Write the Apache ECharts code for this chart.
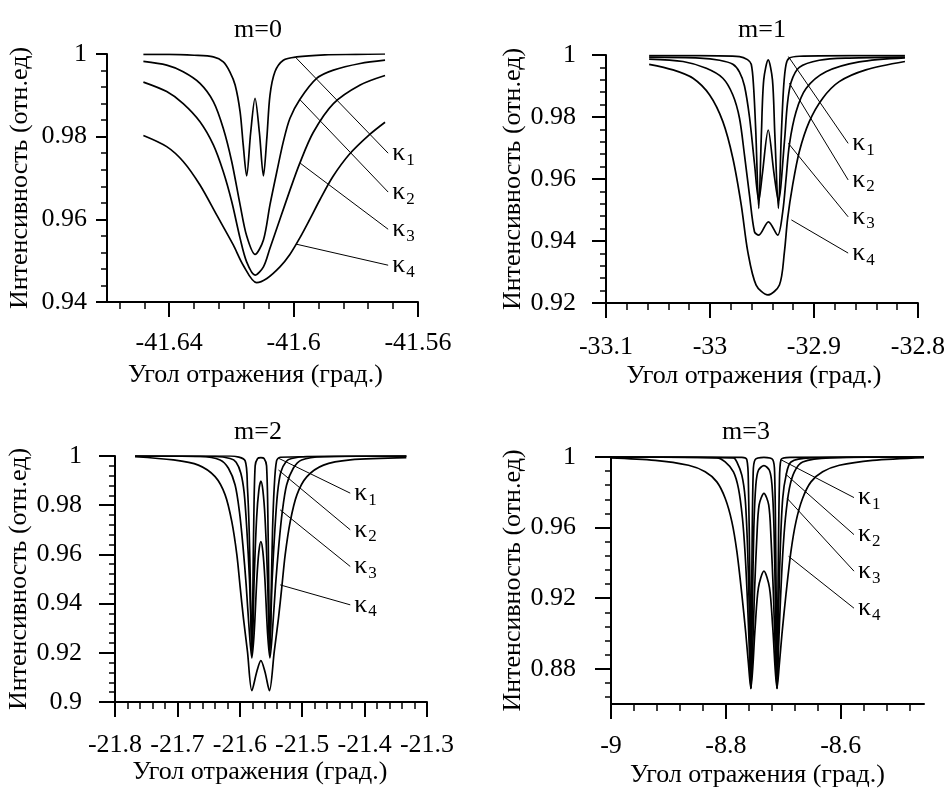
<!DOCTYPE html>
<html><head><meta charset="utf-8">
<script src="https://cdn.jsdelivr.net/npm/echarts@6/dist/echarts.min.js"></script>
<style>html,body{margin:0;padding:0;background:#fff}#c{width:948px;height:789px}</style>
</head><body><div id="c"></div>
<script>
const FONT = 'Liberation Serif';
const FS = 26;

const titles = ['m=0', 'm=1', 'm=2', 'm=3'];
const xName = 'Угол отражения (град.)';
const yName = 'Интенсивность (отн.ед)';
const kappaNames = ['1', '2', '3', '4'];

// ---------- m = 0 ----------
const m0XRange = [-41.66, -41.56];
const m0YRange = [0.94, 1];
const m0XTicks = [-41.64, -41.6, -41.56];
const m0XLabels = ['-41.64', '-41.6', '-41.56'];
const m0YTicks = [0.94, 0.96, 0.98, 1];
const m0YLabels = ['0.94', '0.96', '0.98', '1'];
const m0XMinor = [-41.656, -41.56, 0.008];
const m0YMinor = [0.94, 1, 0.004];
const m0k1 = [[-41.6483,0.9999],[-41.640,0.9999],[-41.632,0.9997],[-41.6258,0.9993],[-41.6226,0.9981],[-41.6205,0.9957],[-41.6188,0.9925],[-41.6172,0.9860],[-41.6162,0.9780],[-41.6151,0.9705],[-41.6138,0.9810],[-41.6124,0.9893],[-41.6110,0.9810],[-41.6097,0.9705],[-41.6086,0.9797],[-41.6076,0.9900],[-41.6060,0.9957],[-41.6033,0.9985],[-41.5990,0.9993],[-41.590,0.9998],[-41.580,0.9999],[-41.5706,1.0]];
const m0k2 = [[-41.6483,0.9982],[-41.6408,0.9973],[-41.6355,0.9957],[-41.6301,0.9929],[-41.6258,0.9885],[-41.6226,0.9820],[-41.6199,0.9740],[-41.6172,0.9635],[-41.6151,0.9560],[-41.6124,0.9515],[-41.6097,0.9550],[-41.6076,0.9635],[-41.6054,0.9715],[-41.6033,0.9788],[-41.6012,0.9844],[-41.5980,0.9890],[-41.5926,0.9941],[-41.5872,0.9961],[-41.5786,0.9977],[-41.5706,0.9985]];
const m0k3 = [[-41.6483,0.9932],[-41.6408,0.9909],[-41.6355,0.9880],[-41.6301,0.9836],[-41.6258,0.9780],[-41.6226,0.9715],[-41.6199,0.9643],[-41.6172,0.9554],[-41.6151,0.9497],[-41.6124,0.9465],[-41.6097,0.9485],[-41.6076,0.9530],[-41.6044,0.9600],[-41.6012,0.9670],[-41.5980,0.9736],[-41.5937,0.9810],[-41.5872,0.9880],[-41.5786,0.9925],[-41.5706,0.9948]];
const m0k4 = [[-41.6483,0.9803],[-41.6408,0.9776],[-41.6355,0.9740],[-41.6301,0.9683],[-41.6247,0.9610],[-41.6194,0.9538],[-41.6162,0.9489],[-41.6119,0.9447],[-41.6086,0.9457],[-41.6044,0.9485],[-41.6012,0.9515],[-41.5980,0.9555],[-41.5948,0.9600],[-41.5915,0.9648],[-41.5874,0.9703],[-41.5820,0.9758],[-41.5756,0.9805],[-41.5706,0.9835]];
const m0Ann = [
  [[-41.5995,0.9993],[-41.5696,0.9760]],
  [[-41.5979,0.9889],[-41.5696,0.9666]],
  [[-41.5979,0.9736],[-41.5696,0.9576]],
  [[-41.5992,0.9540],[-41.5696,0.9489]]
];

// ---------- m = 1 ----------
const m1XRange = [-33.1, -32.8];
const m1YRange = [0.92, 1];
const m1XTicks = [-33.1, -33, -32.9, -32.8];
const m1XLabels = ['-33.1', '-33', '-32.9', '-32.8'];
const m1YTicks = [0.92, 0.94, 0.96, 0.98, 1];
const m1YLabels = ['0.92', '0.94', '0.96', '0.98', '1'];
const m1XMinor = [-33.1, -32.8, 0.02];
const m1YMinor = [0.92, 1, 0.004];
const m1k1 = [[-33.0585,0.9998],[-33.0099,0.9998],[-32.9716,0.9995],[-32.9639,0.9985],[-32.9603,0.9970],[-32.9581,0.9900],[-32.9559,0.9750],[-32.9531,0.9505],[-32.9505,0.9750],[-32.9483,0.9920],[-32.9440,0.9984],[-32.9399,0.9920],[-32.9377,0.9750],[-32.9342,0.9505],[-32.9313,0.9750],[-32.9291,0.9900],[-32.9268,0.9970],[-32.9236,0.9990],[-32.9141,0.9996],[-32.8661,0.9998],[-32.8125,0.9998]];
const m1k2 = [[-33.0585,0.9993],[-33.0099,0.9990],[-32.9907,0.9983],[-32.9780,0.9970],[-32.9716,0.9945],[-32.9668,0.9900],[-32.9620,0.9800],[-32.9572,0.9650],[-32.9531,0.9530],[-32.9495,0.9620],[-32.9440,0.9758],[-32.9385,0.9620],[-32.9342,0.9530],[-32.9284,0.9720],[-32.9256,0.9840],[-32.9220,0.9912],[-32.9141,0.9960],[-32.8949,0.9983],[-32.8661,0.9990],[-32.8125,0.9993]];
const m1k3 = [[-33.0585,0.9987],[-33.0259,0.9979],[-33.0035,0.9957],[-32.9876,0.9925],[-32.9780,0.9871],[-32.9716,0.9796],[-32.9668,0.9677],[-32.9620,0.9548],[-32.9572,0.9430],[-32.9531,0.9419],[-32.9438,0.9462],[-32.9349,0.9419],[-32.9300,0.9495],[-32.9268,0.9602],[-32.9236,0.9712],[-32.9172,0.9817],[-32.9076,0.9892],[-32.8885,0.9946],[-32.8565,0.9978],[-32.8125,0.9991]];
const m1k4 = [[-33.0585,0.9970],[-33.0355,0.9952],[-33.0163,0.9925],[-33.0003,0.9871],[-32.9876,0.9785],[-32.9780,0.9667],[-32.9699,0.9516],[-32.9636,0.9365],[-32.9556,0.9258],[-32.9444,0.9226],[-32.9332,0.9258],[-32.9284,0.9365],[-32.9253,0.9473],[-32.9205,0.9580],[-32.9141,0.9688],[-32.9045,0.9785],[-32.8917,0.9860],[-32.8757,0.9914],[-32.8501,0.9952],[-32.8125,0.9979]];
const m1Ann = [
  [[-32.9246,0.9995],[-32.8671,0.9715]],
  [[-32.9236,0.9909],[-32.8671,0.9597]],
  [[-32.9246,0.9715],[-32.8671,0.9478]],
  [[-32.9217,0.9468],[-32.8671,0.9361]]
];

// ---------- m = 2 ----------
const m2XRange = [-21.8, -21.3];
const m2YRange = [0.9, 1];
const m2XTicks = [-21.8, -21.7, -21.6, -21.5, -21.4, -21.3];
const m2XLabels = ['-21.8', '-21.7', '-21.6', '-21.5', '-21.4', '-21.3'];
const m2YTicks = [0.9, 0.92, 0.94, 0.96, 0.98, 1];
const m2YLabels = ['0.9', '0.92', '0.94', '0.96', '0.98', '1'];
const m2XMinor = [-21.8, -21.3, 0.02];
const m2YMinor = [0.9, 1, 0.004];
const m2k1 = [[-21.7679,1.0],[-21.6155,1.0],[-21.5914,0.9980],[-21.5877,0.9870],[-21.5850,0.9700],[-21.5829,0.9450],[-21.5807,0.9190],[-21.5778,0.9700],[-21.5754,0.9960],[-21.5714,0.9990],[-21.5662,0.9993],[-21.5611,0.9990],[-21.5571,0.9960],[-21.5547,0.9700],[-21.5518,0.9190],[-21.5496,0.9450],[-21.5475,0.9700],[-21.5449,0.9870],[-21.5411,0.9980],[-21.5353,0.9995],[-21.3331,1.0]];
const m2k2 = [[-21.7679,1.0],[-21.6396,0.9998],[-21.6155,0.9990],[-21.6059,0.9975],[-21.5983,0.9930],[-21.5930,0.9850],[-21.5887,0.9700],[-21.5845,0.9500],[-21.5802,0.9210],[-21.5770,0.9500],[-21.5730,0.9750],[-21.5695,0.9860],[-21.5662,0.9898],[-21.5630,0.9860],[-21.5596,0.9750],[-21.5555,0.9500],[-21.5523,0.9210],[-21.5481,0.9500],[-21.5438,0.9700],[-21.5395,0.9850],[-21.5342,0.9935],[-21.5257,0.9978],[-21.5170,0.9990],[-21.4924,0.9998],[-21.3331,1.0]];
const m2k3 = [[-21.7679,1.0],[-21.6636,0.9998],[-21.6315,0.9984],[-21.6182,0.9950],[-21.6075,0.9882],[-21.6006,0.9774],[-21.5951,0.9639],[-21.5898,0.9476],[-21.5855,0.9314],[-21.5807,0.9179],[-21.5770,0.9280],[-21.5727,0.9500],[-21.5695,0.9610],[-21.5662,0.9652],[-21.5630,0.9610],[-21.5598,0.9500],[-21.5555,0.9280],[-21.5517,0.9179],[-21.5470,0.9314],[-21.5427,0.9476],[-21.5374,0.9639],[-21.5319,0.9774],[-21.5250,0.9882],[-21.5143,0.9950],[-21.5009,0.9984],[-21.4658,0.9997],[-21.3331,1.0]];
const m2k4 = [[-21.7679,0.9997],[-21.7065,0.9984],[-21.6664,0.9963],[-21.6396,0.9916],[-21.6235,0.9842],[-21.6128,0.9733],[-21.6047,0.9598],[-21.5995,0.9469],[-21.5942,0.9341],[-21.5877,0.9205],[-21.5807,0.9046],[-21.5727,0.9124],[-21.5662,0.9168],[-21.5598,0.9124],[-21.5525,0.9046],[-21.5448,0.9205],[-21.5380,0.9341],[-21.5326,0.9469],[-21.5273,0.9598],[-21.5192,0.9733],[-21.5085,0.9842],[-21.4924,0.9916],[-21.4658,0.9963],[-21.4230,0.9984],[-21.3331,0.9993]];
const m2Ann = [
  [[-21.5380,0.9991],[-21.4230,0.9849]],
  [[-21.5380,0.9943],[-21.4230,0.9700]],
  [[-21.5353,0.9781],[-21.4230,0.9551]],
  [[-21.5353,0.9476],[-21.4230,0.9395]]
];

// ---------- m = 3 ----------
const m3XRange = [-9, -8.455];
const m3YRange = [0.86, 1];
const m3XTicks = [-9, -8.8, -8.6];
const m3XLabels = ['-9', '-8.8', '-8.6'];
const m3YTicks = [0.88, 0.92, 0.96, 1];
const m3YLabels = ['0.88', '0.92', '0.96', '1'];
const m3XMinor = [-9, -8.48, 0.04];
const m3YMinor = [0.864, 1, 0.008];
const m3k1 = [[-9.025,1.0],[-8.7722,0.9998],[-8.7635,0.9985],[-8.7607,0.9841],[-8.7583,0.9318],[-8.7565,0.8690],[-8.7548,0.9318],[-8.7525,0.9900],[-8.7490,0.9985],[-8.7337,0.9998],[-8.7184,0.9985],[-8.7150,0.9900],[-8.7127,0.9318],[-8.7110,0.8690],[-8.7090,0.9318],[-8.7068,0.9841],[-8.7040,0.9985],[-8.6882,0.9998],[-8.4551,1.0]];
const m3k2 = [[-9.025,1.0],[-8.7868,0.9995],[-8.7809,0.9972],[-8.7722,0.9897],[-8.7664,0.9766],[-8.7624,0.9503],[-8.7595,0.9166],[-8.7565,0.8690],[-8.7537,0.9166],[-8.7513,0.9597],[-8.7478,0.9841],[-8.7433,0.9925],[-8.7337,0.9951],[-8.7242,0.9925],[-8.7197,0.9841],[-8.7162,0.9597],[-8.7137,0.9166],[-8.7110,0.8690],[-8.7080,0.9166],[-8.7050,0.9503],[-8.7010,0.9766],[-8.6951,0.9897],[-8.6866,0.9972],[-8.6534,0.9995],[-8.4551,1.0]];
const m3k3 = [[-9.025,1.0],[-8.8157,0.9995],[-8.8012,0.9972],[-8.7868,0.9916],[-8.7781,0.9822],[-8.7711,0.9653],[-8.7664,0.9447],[-8.7624,0.9184],[-8.7595,0.8940],[-8.7565,0.8690],[-8.7530,0.8940],[-8.7503,0.9222],[-8.7461,0.9541],[-8.7421,0.9728],[-8.7337,0.9794],[-8.7254,0.9728],[-8.7214,0.9541],[-8.7172,0.9222],[-8.7144,0.8940],[-8.7110,0.8690],[-8.7080,0.8940],[-8.7050,0.9184],[-8.7010,0.9447],[-8.6963,0.9653],[-8.6894,0.9822],[-8.6807,0.9916],[-8.6663,0.9972],[-8.6186,0.9995],[-8.4551,1.0]];
const m3k4 = [[-9.025,0.9998],[-8.923,0.9981],[-8.865,0.9953],[-8.836,0.9916],[-8.8157,0.9859],[-8.8012,0.9766],[-8.7896,0.9634],[-8.7809,0.9466],[-8.7722,0.9222],[-8.7652,0.8997],[-8.7607,0.8828],[-8.7565,0.8687],[-8.7490,0.9035],[-8.7433,0.9260],[-8.7337,0.9353],[-8.7241,0.9260],[-8.7184,0.9035],[-8.7110,0.8687],[-8.7068,0.8828],[-8.7023,0.8997],[-8.6953,0.9222],[-8.6866,0.9466],[-8.6779,0.9634],[-8.6663,0.9766],[-8.6518,0.9859],[-8.6315,0.9916],[-8.6024,0.9953],[-8.5445,0.9981],[-8.4551,0.9997]];
const m3Ann = [
  [[-8.7038,0.9984],[-8.5769,0.9770]],
  [[-8.6960,0.9903],[-8.5769,0.9560]],
  [[-8.6934,0.9766],[-8.5769,0.9353]],
  [[-8.6908,0.9437],[-8.5769,0.9143]]
];

// ---------- layout (positions and styles only) ----------
const layouts = [
  {left:107, top:54, width:311, height:248, tX:253, tY:12, yGap:74, xGap:60, xPad:14, xMargin:28, yMargin:20, yTick:11, clip:true},
  {left:606, top:55, width:313, height:248, tX:757, tY:12, yGap:79, xGap:60, xPad:16, xMargin:31, yMargin:30, yTick:14, clip:true},
  {left:115, top:456, width:312, height:246, tX:253, tY:414, yGap:83, xGap:57, xPad:22, xMargin:30, yMargin:33, yTick:16, clip:true},
  {left:611, top:457, width:313, height:248, tX:741, tY:414, yGap:84, xGap:58, xPad:20, xMargin:29, yMargin:35, yTick:16, clip:false}
];

function range(spec) {
  const a = spec[0], b = spec[1], step = spec[2];
  const n = Math.round((b - a) / step);
  const out = [];
  for (let i = 0; i <= n; i++) out.push(+(a + i * step).toFixed(6));
  return out;
}
function labelFmt(ticks, labels) {
  return function (v) {
    for (let i = 0; i < ticks.length; i++) if (Math.abs(ticks[i] - v) < 1e-7) return labels[i];
    return '';
  };
}

const panels = [
  {xr:m0XRange, yr:m0YRange, xt:m0XTicks, xl:m0XLabels, yt:m0YTicks, yl:m0YLabels, xm:m0XMinor, ym:m0YMinor, curves:[m0k1,m0k2,m0k3,m0k4], ann:m0Ann},
  {xr:m1XRange, yr:m1YRange, xt:m1XTicks, xl:m1XLabels, yt:m1YTicks, yl:m1YLabels, xm:m1XMinor, ym:m1YMinor, curves:[m1k1,m1k2,m1k3,m1k4], ann:m1Ann},
  {xr:m2XRange, yr:m2YRange, xt:m2XTicks, xl:m2XLabels, yt:m2YTicks, yl:m2YLabels, xm:m2XMinor, ym:m2YMinor, curves:[m2k1,m2k2,m2k3,m2k4], ann:m2Ann},
  {xr:m3XRange, yr:m3YRange, xt:m3XTicks, xl:m3XLabels, yt:m3YTicks, yl:m3YLabels, xm:m3XMinor, ym:m3YMinor, curves:[m3k1,m3k2,m3k3,m3k4], ann:m3Ann}
];

const txt = {fontFamily: FONT, fontSize: FS, color: '#000'};
const grid = [], xAxis = [], yAxis = [], series = [], title = [];

panels.forEach(function (p, i) {
  const L = layouts[i];
  grid.push({left: L.left, top: L.top, width: L.width, height: L.height, containLabel: false});
  title.push({text: titles[i], left: L.tX, top: L.tY, textAlign: 'center',
    textStyle: {fontFamily: FONT, fontSize: FS, fontWeight: 'normal', color: '#000'}});
  xAxis.push({type: 'value', gridIndex: i, position: 'bottom', min: p.xr[0], max: p.xr[1],
    axisLine: {show: true, onZero: false, lineStyle: {color: '#000', width: 2}},
    axisTick: {show: true, customValues: p.xt, length: 15, lineStyle: {color: '#000', width: 2}},
    axisLabel: Object.assign({customValues: p.xt, margin: L.xMargin, formatter: labelFmt(p.xt, p.xl)}, txt),
    splitLine: {show: false},
    name: xName, nameLocation: 'middle', nameGap: L.xGap,
    nameTextStyle: Object.assign({padding: [0, L.xPad, 0, 0]}, txt)});
  xAxis.push({type: 'value', gridIndex: i, position: 'bottom', min: p.xr[0], max: p.xr[1],
    axisLine: {show: false, onZero: false},
    axisTick: {show: true, customValues: range(p.xm), length: 7, lineStyle: {color: '#000', width: 1.5}},
    axisLabel: {show: false}, splitLine: {show: false}});
  yAxis.push({type: 'value', gridIndex: i, position: 'left', min: p.yr[0], max: p.yr[1],
    axisLine: {show: true, onZero: false, lineStyle: {color: '#000', width: 2}},
    axisTick: {show: true, customValues: p.yt, length: L.yTick, lineStyle: {color: '#000', width: 2}},
    axisLabel: Object.assign({customValues: p.yt, margin: L.yMargin, formatter: labelFmt(p.yt, p.yl)}, txt),
    splitLine: {show: false},
    name: yName, nameLocation: 'middle', nameGap: L.yGap, nameTextStyle: txt});
  yAxis.push({type: 'value', gridIndex: i, position: 'left', min: p.yr[0], max: p.yr[1],
    axisLine: {show: false, onZero: false},
    axisTick: {show: true, customValues: range(p.ym), length: 6, lineStyle: {color: '#000', width: 1.5}},
    axisLabel: {show: false}, splitLine: {show: false}});

  p.curves.forEach(function (c) {
    series.push({type: 'line', xAxisIndex: 2 * i, yAxisIndex: 2 * i, data: c,
      smooth: 0.3, symbol: 'none', clip: L.clip, silent: true,
      lineStyle: {color: '#000', width: 1.7}});
  });
  p.ann.forEach(function (a, k) {
    series.push({type: 'line', xAxisIndex: 2 * i, yAxisIndex: 2 * i, data: a,
      symbol: 'none', silent: true, lineStyle: {color: '#000', width: 1},
      endLabel: {show: true, distance: 4, formatter: '{k|κ}{s|' + kappaNames[k] + '}',
        rich: {k: {fontFamily: FONT, fontSize: FS, color: '#000', lineHeight: 26},
               s: {fontFamily: FONT, fontSize: 17, color: '#000', lineHeight: 17, padding: [14, 0, 0, 1]}}}});
  });
});

const chart = echarts.init(document.getElementById('c'), null, {renderer: 'canvas'});
chart.setOption({animation: false, backgroundColor: '#fff', title: title, grid: grid, xAxis: xAxis, yAxis: yAxis, series: series});
</script></body></html>
